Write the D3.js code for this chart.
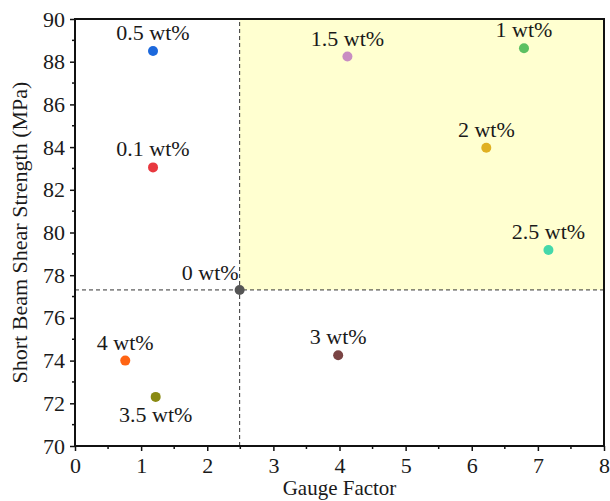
<!DOCTYPE html>
<html>
<head>
<meta charset="utf-8">
<script src="https://cdn.jsdelivr.net/npm/d3@7"></script>
<style>
  html, body { margin: 0; padding: 0; background: #ffffff; }
  svg { display: block; }
  text { font-family: "Liberation Serif", "Times New Roman", Times, serif; fill: #1a1a1a; }
</style>
</head>
<body>
<svg id="chart" width="610" height="501"></svg>
<script>
// Filler loading (wt%) for each sample
const samples = ["0.5 wt%", "0.1 wt%", "1.5 wt%", "1 wt%", "2 wt%", "2.5 wt%", "0 wt%", "4 wt%", "3.5 wt%", "3 wt%"];
// Gauge factor of each sample
const gaugeFactor = [1.18, 1.18, 4.12, 6.79, 6.22, 7.16, 2.49, 0.76, 1.22, 3.98];
// Short beam shear strength (MPa) of each sample
const shearStrength = [88.5, 83.05, 88.24, 88.63, 83.97, 79.18, 77.31, 74.0, 72.3, 74.25];
const colors = ["#1c68dc", "#e8383f", "#c88dc2", "#5cc062", "#e0b022", "#44d8aa", "#555555", "#ff6414", "#8a8a12", "#7a4444"];
// Label placement relative to each point: "above", "below" or "left"
const labelPos = ["above", "above", "above", "above", "above", "above", "left", "above", "below", "above"];

const xTicks = [0, 1, 2, 3, 4, 5, 6, 7, 8];
const yTicks = [70, 72, 74, 76, 78, 80, 82, 84, 86, 88, 90];

// Reference sample (neat resin) defines the quadrant split
const refIndex = samples.indexOf("0 wt%");
const refX = gaugeFactor[refIndex];
const refY = shearStrength[refIndex];

const svg = d3.select("#chart");
const margin = { left: 75, right: 6, top: 19, bottom: 55 };
const W = 610, H = 501;
const FONT = "'Liberation Serif', 'Times New Roman', Times, serif";

const x = d3.scaleLinear().domain([0, 8]).range([margin.left, W - margin.right]);
const y = d3.scaleLinear().domain([70, 90]).range([H - margin.bottom, margin.top]);

// plot background
svg.append("rect")
  .attr("x", x(0)).attr("y", y(90))
  .attr("width", x(8) - x(0)).attr("height", y(70) - y(90))
  .attr("fill", "#ffffff");

// highlighted quadrant: higher gauge factor and higher strength than the reference
svg.append("rect")
  .attr("x", x(refX)).attr("y", y(90))
  .attr("width", x(8) - x(refX)).attr("height", y(refY) - y(90))
  .attr("fill", "#ffffd0");

// reference dashed lines
svg.append("line")
  .attr("x1", x(refX)).attr("x2", x(refX))
  .attr("y1", y(70)).attr("y2", y(90))
  .attr("stroke", "#333").attr("stroke-width", 1)
  .attr("stroke-dasharray", "4,3");
svg.append("line")
  .attr("x1", x(0)).attr("x2", x(8))
  .attr("y1", y(refY)).attr("y2", y(refY))
  .attr("stroke", "#333").attr("stroke-width", 1)
  .attr("stroke-dasharray", "4,3");

// axes
const xAxis = d3.axisBottom(x).tickValues(xTicks).tickFormat(d3.format("d")).tickSizeOuter(0).tickSize(5).tickPadding(6);
const yAxis = d3.axisLeft(y).tickValues(yTicks).tickFormat(d3.format("d")).tickSizeOuter(0).tickSize(5).tickPadding(5);

const gx = svg.append("g").attr("transform", `translate(0,${y(70)})`).call(xAxis);
const gy = svg.append("g").attr("transform", `translate(${x(0)},0)`).call(yAxis);
[gx, gy].forEach(g => {
  g.select(".domain").remove();
  g.selectAll(".tick line").attr("stroke", "#111").attr("stroke-width", 1.5);
  g.selectAll(".tick text").style("font-family", FONT).style("font-size", "22px").attr("fill", "#1a1a1a");
});

// minor ticks
const xMinor = d3.range(0.5, 8, 1);
const yMinor = d3.range(71, 90, 2);
svg.append("g").selectAll("line").data(xMinor).join("line")
  .attr("x1", d => x(d)).attr("x2", d => x(d))
  .attr("y1", y(70)).attr("y2", y(70) + 3)
  .attr("stroke", "#111").attr("stroke-width", 1.5);
svg.append("g").selectAll("line").data(yMinor).join("line")
  .attr("y1", d => y(d)).attr("y2", d => y(d))
  .attr("x1", x(0)).attr("x2", x(0) - 3)
  .attr("stroke", "#111").attr("stroke-width", 1.5);

// frame
svg.append("rect")
  .attr("x", x(0)).attr("y", y(90))
  .attr("width", x(8) - x(0)).attr("height", y(70) - y(90))
  .attr("fill", "none").attr("stroke", "#111").attr("stroke-width", 2);

// points
const data = samples.map((s, i) => ({ s, gf: gaugeFactor[i], st: shearStrength[i], c: colors[i], pos: labelPos[i] }));
svg.append("g").selectAll("circle").data(data).join("circle")
  .attr("cx", d => x(d.gf)).attr("cy", d => y(d.st))
  .attr("r", 5).attr("fill", d => d.c);

// point labels
svg.append("g").selectAll("text").data(data).join("text")
  .attr("x", d => d.pos === "left" ? x(d.gf) - 1 : x(d.gf))
  .attr("y", d => d.pos === "above" ? y(d.st) - 11 : d.pos === "below" ? y(d.st) + 25 : y(d.st) - 10)
  .attr("text-anchor", d => d.pos === "left" ? "end" : "middle")
  .style("font-family", FONT)
  .style("font-size", "22px")
  .text(d => d.s);

// axis titles
svg.append("text")
  .attr("x", (x(0) + x(8)) / 2).attr("y", 495)
  .attr("text-anchor", "middle")
  .style("font-family", FONT)
  .style("font-size", "21px")
  .text("Gauge Factor");
svg.append("text")
  .attr("transform", `translate(27,${(y(70) + y(90)) / 2}) rotate(-90)`)
  .attr("text-anchor", "middle")
  .style("font-family", FONT)
  .style("font-size", "22px")
  .text("Short Beam Shear Strength (MPa)");
</script>
</body>
</html>
